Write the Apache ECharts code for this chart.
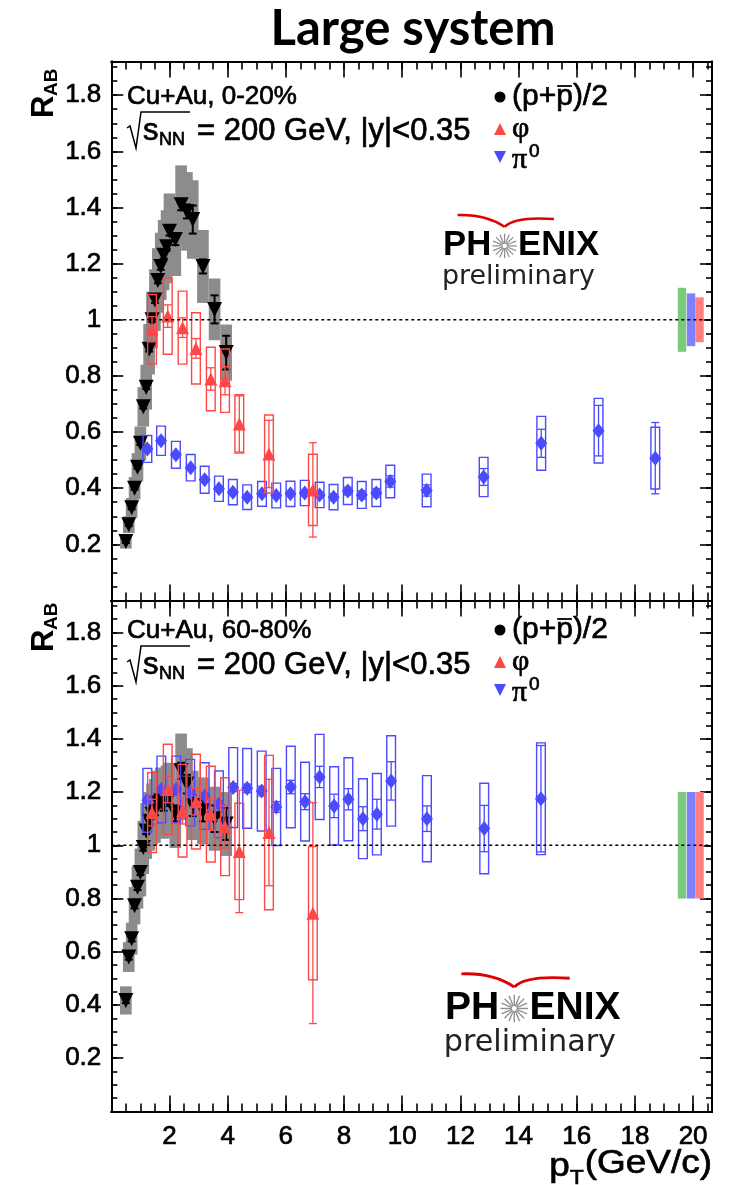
<!DOCTYPE html>
<html>
<head>
<meta charset="utf-8">
<script src="https://cdn.jsdelivr.net/npm/echarts@6/dist/echarts.min.js"></script>
<style>
  html, body { margin: 0; padding: 0; background: #fff; }
  #chart { width: 730px; height: 1185px; }
</style>
</head>
<body>
<div id="chart"></div>
<script>
// ---------------- axis ticks ----------------
const xTickLabels = [2, 4, 6, 8, 10, 12, 14, 16, 18, 20];
const yTickLabels = [0.2, 0.4, 0.6, 0.8, 1, 1.2, 1.4, 1.6, 1.8];

// ---------------- Cu+Au 0-20% ----------------
// (p+pbar)/2
const protonPtC   = [0.5, 0.6, 0.7, 0.8, 0.9, 1.0, 1.1, 1.2, 1.3, 1.4, 1.5, 1.6, 1.7, 1.8, 1.9, 2.0, 2.2, 2.4, 2.6, 2.8, 3.15, 3.55, 3.95];
const protonRC    = [0.21, 0.27, 0.33, 0.40, 0.475, 0.56, 0.69, 0.76, 0.895, 1.00, 1.07, 1.14, 1.19, 1.23, 1.26, 1.315, 1.286, 1.41, 1.386, 1.357, 1.19, 1.037, 0.883];
const protonStatC = [0.005, 0.005, 0.005, 0.005, 0.005, 0.006, 0.006, 0.007, 0.008, 0.008, 0.01, 0.01, 0.012, 0.012, 0.014, 0.015, 0.02, 0.02, 0.025, 0.05, 0.025, 0.05, 0.06];
const protonSysC  = [0.025, 0.03, 0.035, 0.04, 0.05, 0.06, 0.07, 0.08, 0.09, 0.10, 0.11, 0.115, 0.12, 0.125, 0.13, 0.135, 0.13, 0.14, 0.14, 0.14, 0.13, 0.11, 0.10];
// phi
const phiPtC   = [1.4, 1.94, 2.45, 2.91, 3.42, 3.91, 4.40, 5.42, 6.93];
const phiRC    = [0.966, 1.013, 0.972, 0.898, 0.789, 0.783, 0.629, 0.522, 0.394];
const phiStatC = [0.045, 0.04, 0.035, 0.035, 0.04, 0.05, 0.10, 0.12, 0.168];
const phiSysC  = [0.124, 0.136, 0.13, 0.127, 0.113, 0.113, 0.104, 0.139, 0.127];
// pi0
const pi0PtC   = [1.24, 1.71, 2.22, 2.73, 3.21, 3.70, 4.18, 4.67, 5.18, 5.67, 6.16, 6.65, 7.16, 7.64, 8.13, 8.61, 9.11, 9.59, 10.84, 12.80, 14.78, 16.75, 18.70];
const pi0RC    = [0.54, 0.569, 0.519, 0.473, 0.43, 0.398, 0.386, 0.368, 0.38, 0.374, 0.38, 0.383, 0.376, 0.368, 0.39, 0.376, 0.383, 0.424, 0.392, 0.44, 0.56, 0.605, 0.507];
const pi0StatC = [0.005, 0.005, 0.005, 0.005, 0.005, 0.005, 0.006, 0.006, 0.007, 0.008, 0.009, 0.01, 0.01, 0.012, 0.014, 0.015, 0.016, 0.02, 0.02, 0.03, 0.05, 0.09, 0.127];
const pi0SysC  = [0.048, 0.052, 0.048, 0.047, 0.048, 0.045, 0.045, 0.044, 0.044, 0.044, 0.045, 0.045, 0.045, 0.045, 0.048, 0.048, 0.048, 0.058, 0.058, 0.07, 0.096, 0.115, 0.11];

// ---------------- Cu+Au 60-80% ----------------
const protonPtP   = [0.5, 0.6, 0.7, 0.8, 0.9, 1.0, 1.1, 1.2, 1.3, 1.4, 1.5, 1.6, 1.7, 1.8, 1.9, 2.0, 2.2, 2.4, 2.6, 2.8, 3.15, 3.55, 3.95];
const protonRP    = [0.417, 0.58, 0.649, 0.773, 0.842, 0.898, 0.992, 1.054, 1.09, 1.117, 1.129, 1.16, 1.167, 1.15, 1.17, 1.18, 1.12, 1.28, 1.23, 1.15, 1.13, 1.10, 1.08];
const protonStatP = [0.01, 0.01, 0.01, 0.01, 0.01, 0.01, 0.012, 0.012, 0.014, 0.015, 0.016, 0.018, 0.02, 0.02, 0.022, 0.024, 0.03, 0.03, 0.035, 0.04, 0.04, 0.05, 0.06];
const protonSysP  = [0.053, 0.056, 0.06, 0.07, 0.08, 0.09, 0.10, 0.105, 0.11, 0.115, 0.12, 0.12, 0.125, 0.125, 0.13, 0.13, 0.13, 0.14, 0.135, 0.13, 0.125, 0.12, 0.12];
const phiPtP   = [1.4, 1.94, 2.45, 2.91, 3.42, 3.91, 4.40, 5.42, 6.93];
const phiRP    = [1.123, 1.21, 1.13, 1.164, 1.117, 1.07, 0.977, 1.048, 0.745];
const phiStatP = [0.05, 0.05, 0.05, 0.05, 0.06, 0.08, 0.23, 0.20, 0.415];
const phiSysP  = [0.15, 0.17, 0.174, 0.178, 0.18, 0.184, 0.181, 0.29, 0.25];
const pi0PtP   = [1.24, 1.72, 2.23, 2.71, 3.21, 3.70, 4.19, 4.67, 5.17, 5.67, 6.17, 6.66, 7.16, 7.66, 8.15, 8.65, 9.13, 9.62, 10.85, 12.82, 14.77];
const pi0RP    = [1.169, 1.21, 1.21, 1.198, 1.185, 1.154, 1.217, 1.214, 1.204, 1.144, 1.219, 1.164, 1.257, 1.148, 1.173, 1.10, 1.117, 1.242, 1.10, 1.063, 1.175];
const pi0StatP = [0.01, 0.01, 0.01, 0.012, 0.012, 0.014, 0.015, 0.016, 0.018, 0.02, 0.025, 0.03, 0.04, 0.044, 0.04, 0.045, 0.056, 0.072, 0.048, 0.087, 0.20];
const pi0SysP  = [0.12, 0.125, 0.125, 0.125, 0.125, 0.125, 0.15, 0.15, 0.15, 0.145, 0.153, 0.148, 0.16, 0.147, 0.156, 0.15, 0.153, 0.17, 0.162, 0.17, 0.21];

// global normalisation uncertainties (green, pi0, phi) drawn at R = 1
const normPt   = [19.62, 19.93, 20.22];
const normHalfC = [0.114, 0.094, 0.08];
const normHalfP = [0.2, 0.2, 0.2];

// ---------------- styling ----------------
const X_MAX = 20.65, Y_MAX = 1.92;
const FONT = '"Liberation Sans", Arial, Helvetica, sans-serif';
const SERIF = '"Liberation Serif", "DejaVu Serif", serif';
const RED = '#ff4747';
const BLUE = '#4a4aff';
const GRAY = '#8c8c8c';
const BOX_HW = 0.15;   // half width of phi / pi0 systematic boxes (GeV/c)
const GRAY_HW = 0.2;   // half width of proton systematic bands
const THICK = 0.7;     // outline added to text strokes

const chart = echarts.init(document.getElementById('chart'), null, { renderer: 'canvas' });

function makeX(g, position, interval, tickLen, showLabels) {
  return {
    gridIndex: g, type: 'value', min: 0, max: X_MAX, interval: interval, position: position,
    axisLine: { show: true, onZero: false, lineStyle: { color: '#000', width: 2 } },
    axisTick: { show: true, inside: true, length: tickLen, lineStyle: { color: '#000', width: 1.6 } },
    axisLabel: {
      show: showLabels, margin: 12, color: '#000', fontSize: 26, fontFamily: FONT,
      textBorderColor: '#000', textBorderWidth: THICK,
      formatter: v => xTickLabels.includes(Math.round(v * 100) / 100) ? String(Math.round(v)) : ''
    },
    splitLine: { show: false }
  };
}
function makeY(g, position, interval, tickLen, showLabels) {
  return {
    gridIndex: g, type: 'value', min: 0, max: Y_MAX, interval: interval, position: position,
    axisLine: { show: true, onZero: false, lineStyle: { color: '#000', width: 2 } },
    axisTick: { show: true, inside: true, length: tickLen, lineStyle: { color: '#000', width: 1.6 } },
    axisLabel: {
      show: showLabels, margin: 10, color: '#000', fontSize: 26, fontFamily: FONT,
      textBorderColor: '#000', textBorderWidth: THICK,
      formatter: v => {
        const r = Math.round(v * 100) / 100;
        return yTickLabels.includes(r) ? (r === 1 ? '1' : r.toFixed(1)) : '';
      }
    },
    splitLine: { show: false }
  };
}

const xAxes = [], yAxes = [];
[0, 1].forEach(g => {
  xAxes.push(makeX(g, 'bottom', 2, 16, g === 1));
  xAxes.push(makeX(g, 'bottom', 0.5, 8, false));
  xAxes.push(makeX(g, 'top', 2, 16, false));
  xAxes.push(makeX(g, 'top', 0.5, 8, false));
  yAxes.push(makeY(g, 'left', 0.2, 12, true));
  yAxes.push(makeY(g, 'left', 0.05, 6, false));
  yAxes.push(makeY(g, 'right', 0.2, 12, false));
  yAxes.push(makeY(g, 'right', 0.05, 6, false));
});

// systematic boxes: filled (proton band) or outlined (phi, pi0)
function boxSeries(g, pts, vals, sys, halfW, style, z) {
  return {
    type: 'custom', xAxisIndex: 4 * g, yAxisIndex: 4 * g, z: z, silent: true,
    data: pts.map((p, i) => [p, vals[i], sys[i]]),
    renderItem: (params, api) => {
      const x = api.value(0), y = api.value(1), s = api.value(2);
      const a = api.coord([x - halfW, y + s]);
      const b = api.coord([x + halfW, y - s]);
      return { type: 'rect', shape: { x: a[0], y: a[1], width: b[0] - a[0], height: b[1] - a[1] }, style: style };
    }
  };
}
// statistical error bars with end caps
function errSeries(g, pts, vals, err, color, width, cap, z) {
  return {
    type: 'custom', xAxisIndex: 4 * g, yAxisIndex: 4 * g, z: z, silent: true,
    data: pts.map((p, i) => [p, vals[i], err[i]]),
    renderItem: (params, api) => {
      const x = api.value(0), y = api.value(1), e = api.value(2);
      const t = api.coord([x, y + e]), b = api.coord([x, y - e]);
      const st = { stroke: color, lineWidth: width };
      return { type: 'group', children: [
        { type: 'line', shape: { x1: t[0], y1: t[1], x2: b[0], y2: b[1] }, style: st },
        { type: 'line', shape: { x1: t[0] - cap, y1: t[1], x2: t[0] + cap, y2: t[1] }, style: st },
        { type: 'line', shape: { x1: b[0] - cap, y1: b[1], x2: b[0] + cap, y2: b[1] }, style: st }
      ] };
    }
  };
}
function markerSeries(g, pts, vals, symbol, size, rotate, color, z) {
  return {
    type: 'scatter', xAxisIndex: 4 * g, yAxisIndex: 4 * g, z: z, silent: true,
    symbol: symbol, symbolSize: size, symbolRotate: rotate,
    itemStyle: { color: color, opacity: 1 },
    data: pts.map((p, i) => [p, vals[i]])
  };
}
function normSeries(g, half) {
  const colors = ['#7cc87c', '#8080ff', '#ff8080'];
  return {
    type: 'custom', xAxisIndex: 4 * g, yAxisIndex: 4 * g, z: 1, silent: true,
    data: normPt.map((p, i) => [p, half[i], i]),
    renderItem: (params, api) => {
      const x = api.value(0), h = api.value(1), i = api.value(2);
      const a = api.coord([x - 0.145, 1 + h]);
      const b = api.coord([x + 0.145, 1 - h]);
      return { type: 'rect', shape: { x: a[0], y: a[1], width: b[0] - a[0], height: b[1] - a[1] }, style: { fill: colors[i] } };
    }
  };
}
function unityLine(g) {
  return {
    type: 'line', xAxisIndex: 4 * g, yAxisIndex: 4 * g, z: 9, silent: true,
    symbol: 'none', data: [[0, 1], [X_MAX, 1]],
    lineStyle: { color: '#000', width: 1.6, type: [3, 3] }
  };
}

function panelSeries(g, d) {
  return [
    normSeries(g, d.norm),
    boxSeries(g, d.pPt, d.pR, d.pSys, GRAY_HW, { fill: GRAY }, 2),
    errSeries(g, d.pPt, d.pR, d.pStat, '#000', 2, 4, 3),
    markerSeries(g, d.pPt, d.pR, 'triangle', 15, 180, '#000', 4),
    boxSeries(g, d.kPt, d.kR, d.kSys, BOX_HW, { fill: 'none', stroke: BLUE, lineWidth: 1.4 }, 5),
    errSeries(g, d.kPt, d.kR, d.kStat, BLUE, 1.3, 4, 5),
    markerSeries(g, d.kPt, d.kR, 'diamond', [12, 15], 0, BLUE, 6),
    boxSeries(g, d.fPt, d.fR, d.fSys, BOX_HW, { fill: 'none', stroke: RED, lineWidth: 1.4 }, 7),
    errSeries(g, d.fPt, d.fR, d.fStat, RED, 1.3, 4, 7),
    markerSeries(g, d.fPt, d.fR, 'triangle', 13, 0, RED, 8),
    unityLine(g)
  ];
}

const series = [].concat(
  panelSeries(0, { norm: normHalfC,
    pPt: protonPtC, pR: protonRC, pStat: protonStatC, pSys: protonSysC,
    kPt: pi0PtC, kR: pi0RC, kStat: pi0StatC, kSys: pi0SysC,
    fPt: phiPtC, fR: phiRC, fStat: phiStatC, fSys: phiSysC }),
  panelSeries(1, { norm: normHalfP,
    pPt: protonPtP, pR: protonRP, pStat: protonStatP, pSys: protonSysP,
    kPt: pi0PtP, kR: pi0RP, kStat: pi0StatP, kSys: pi0SysP,
    fPt: phiPtP, fR: phiRP, fStat: phiStatP, fSys: phiSysP })
);

// ---------------- annotations ----------------
const mctx = document.createElement('canvas').getContext('2d');
function textWidth(s, font) { mctx.font = font; return mctx.measureText(s).width; }

function txt(x, y, text, font, extra) {
  return { type: 'text', x: x, y: y, silent: true,
    style: Object.assign({ text: text, font: font, fill: '#000', stroke: '#000', lineWidth: THICK,
      textAlign: 'left', textVerticalAlign: 'middle' }, extra || {}) };
}
const F26 = '26px ' + FONT;
const F31 = '31px ' + FONT;
const F30 = '30px ' + FONT;

function headerBlock(y0, label) {
  const els = [];
  els.push(txt(127, y0, label, F26));
  // sqrt(s_NN) line
  const yc = y0 + 34, x0 = 127;
  els.push({ type: 'polyline', silent: true,
    shape: { points: [[x0, yc - 3], [x0 + 3, yc - 5], [x0 + 9, yc + 17], [x0 + 14, yc - 19], [x0 + 63, yc - 19]] },
    style: { stroke: '#000', lineWidth: 1.5, fill: null } });
  els.push(txt(x0 + 16, yc, 's', F31));
  els.push(txt(x0 + 32, yc + 9, 'NN', '18px ' + FONT));
  els.push(txt(x0 + 70, yc, '= 200 GeV, |y|<0.35', F31));
  return els;
}
function legendBlock(y0) {
  const els = [];
  const lx = 500, tx = 512;
  els.push({ type: 'circle', silent: true, shape: { cx: lx, cy: y0, r: 5.5 }, style: { fill: '#000' } });
  els.push(txt(tx, y0, '(p+p)/2', F30));
  const w1 = textWidth('(p+', F30), w2 = textWidth('p', F30);
  els.push({ type: 'line', silent: true,
    shape: { x1: tx + w1 + 1, y1: y0 - 11, x2: tx + w1 + w2 - 1, y2: y0 - 11 },
    style: { stroke: '#000', lineWidth: 1.8 } });
  const y1 = y0 + 32;
  els.push({ type: 'polygon', silent: true, shape: { points: [[lx - 6, y1 + 6], [lx + 6, y1 + 6], [lx, y1 - 6]] }, style: { fill: RED } });
  els.push(txt(tx, y1, 'φ', '30px ' + SERIF));
  const y2 = y0 + 60;
  els.push({ type: 'polygon', silent: true, shape: { points: [[lx - 6, y2 - 6], [lx + 6, y2 - 6], [lx, y2 + 6]] }, style: { fill: BLUE } });
  els.push(txt(tx, y2 + 3, 'π', '30px ' + SERIF));
  els.push(txt(tx + 17, y2 - 5, '0', '19px ' + FONT));
  return els;
}
function raxisTitle(x, y) {
  return { type: 'group', x: x, y: y, rotation: Math.PI / 2, silent: true, children: [
    txt(0, 0, 'R', 'bold 31px ' + FONT, { lineWidth: 0 }),
    txt(22, 8, 'AB', 'bold 19px ' + FONT, { lineWidth: 0 })
  ] };
}
function logo(ox, oy, s) {
  const ch = [];
  const wing = { stroke: '#e00000', lineWidth: 2.2, fill: null };
  ch.push({ type: 'bezierCurve', silent: true, shape: { x1: 13, y1: -16, cpx1: 38, cpy1: -17, x2: 55, y2: -5.5 }, style: wing });
  ch.push({ type: 'bezierCurve', silent: true, shape: { x1: 55, y1: -5.5, cpx1: 64, cpy1: -15, x2: 99, y2: -12.5 }, style: wing });
  const LF = 'bold 31px ' + FONT;
  ch.push(txt(0, 11.5, 'PH', LF, { lineWidth: 0 }));
  const cx = 55, cy = 11.5;
  for (let i = 0; i < 16; i++) {
    const a = i * Math.PI / 8;
    ch.push({ type: 'line', silent: true,
      shape: { x1: cx + 2 * Math.cos(a), y1: cy + 2 * Math.sin(a), x2: cx + 11 * Math.cos(a), y2: cy + 11 * Math.sin(a) },
      style: { stroke: '#909090', lineWidth: 1.1 } });
  }
  ch.push(txt(67, 11.5, 'ENIX', LF, { lineWidth: 0 }));
  ch.push(txt(-1, 39, 'preliminary', '24px "DejaVu Sans", sans-serif', { fill: '#222', lineWidth: 0 }));
  return { type: 'group', x: ox, y: oy, scaleX: s, scaleY: s, silent: true, children: ch };
}

// p_T (GeV/c), right-aligned with the end of the axis, slightly widened
const XT_FONT = '33px ' + FONT;
const XT_SX = 1.12;
const pW = textWidth('p', XT_FONT), tW = textWidth('T', '20px ' + FONT), gW = textWidth('(GeV/c)', XT_FONT);
const xtLocalW = pW + tW + 1 + gW;
const xTitle = { type: 'group', x: 712 - xtLocalW * XT_SX, y: 0, scaleX: XT_SX, silent: true, children: [
  txt(0, 1167, 'p', XT_FONT),
  txt(pW, 1178, 'T', '20px ' + FONT),
  txt(pW + tW + 1, 1164, '(GeV/c)', XT_FONT)
] };

const graphics = [].concat(
  [txt(413, 29, 'Large system', 'bold 49px Lato, "Open Sans", sans-serif', { textAlign: 'center', lineWidth: 0 })],
  headerBlock(97, 'Cu+Au, 0-20%'),
  legendBlock(97),
  headerBlock(631, 'Cu+Au, 60-80%'),
  legendBlock(630),
  [raxisTitle(44, 118), raxisTitle(44, 652), logo(443, 233, 1.12), logo(445, 994, 1.26), xTitle]
);

chart.setOption({
  animation: false,
  backgroundColor: '#fff',
  grid: [
    { left: 111.3, top: 61.5, width: 600.7, height: 539 },
    { left: 111.3, top: 600.5, width: 600.7, height: 510.9 }
  ],
  xAxis: xAxes,
  yAxis: yAxes,
  series: series,
  graphic: { elements: graphics }
});
</script>
</body>
</html>
